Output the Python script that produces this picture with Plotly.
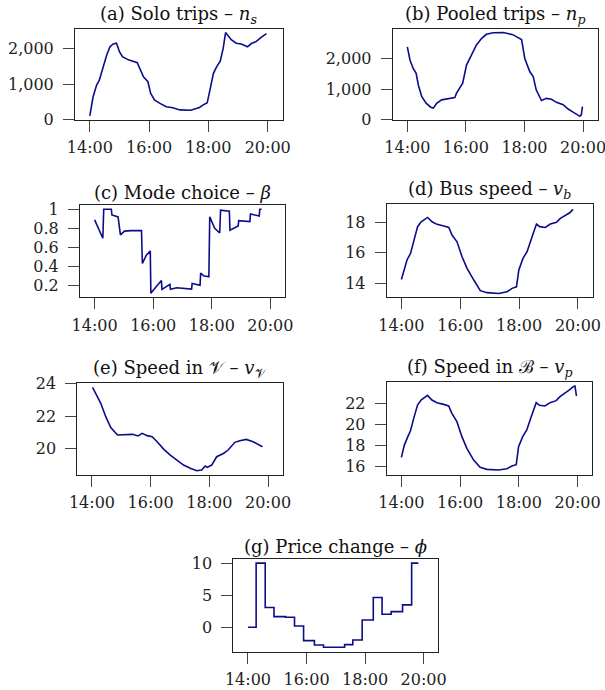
import plotly.graph_objects as go

# ---------------- data ----------------
tick_hours = [14, 16, 18, 20]
tick_labels = ["14:00", "16:00", "18:00", "20:00"]

# (a) Solo trips n_s
a_t = [14.0, 14.11, 14.23, 14.32, 14.57, 14.68, 14.79, 14.9, 15.0, 15.1, 15.3, 15.47, 15.6, 15.81, 15.96,
       16.05, 16.18, 16.35, 16.58, 16.8, 17.04, 17.4, 17.6, 17.7, 17.8, 17.96, 18.05, 18.17, 18.28, 18.4,
       18.5, 18.58, 18.77, 18.94, 19.11, 19.32, 19.45, 19.62, 19.8, 19.96]
a_v = [100, 640, 970, 1110, 1820, 2050, 2130, 2150, 1910, 1770, 1680, 1630, 1600, 1200, 1065,
       740, 550, 460, 360, 330, 270, 260, 320, 340, 400, 470, 820, 1300, 1490, 1640,
       2010, 2450, 2250, 2150, 2130, 2050, 2140, 2200, 2330, 2420]

# (b) Pooled trips n_p
b_t = [14.0, 14.09, 14.2, 14.3, 14.375, 14.49, 14.64, 14.8, 14.89, 15.0, 15.17, 15.4, 15.62, 15.68, 15.89,
       16.02, 16.19, 16.36, 16.53, 16.7, 16.93, 17.27, 17.6, 17.78, 17.9, 18.01, 18.18, 18.3, 18.4, 18.58,
       18.75, 18.92, 19.09, 19.32, 19.49, 19.66, 19.89, 19.94, 19.98]
b_v = [2390, 1960, 1680, 1520, 1140, 760, 540, 410, 380, 540, 650, 700, 730, 870, 1200,
       1790, 2120, 2450, 2660, 2800, 2850, 2860, 2790, 2700, 2630, 2010, 1580, 1410, 980, 630,
       700, 670, 570, 490, 350, 250, 110, 160, 430]

# (c) Mode choice beta
c_t = [14.0, 14.28, 14.31, 14.57, 14.59, 14.8, 14.88, 15.02, 15.25, 15.6, 15.63, 15.77, 15.9, 15.92, 16.1,
       16.28, 16.3, 16.57, 16.59, 16.8, 17.31, 17.33, 17.6, 17.62, 17.72, 17.9, 17.93, 18.1, 18.27, 18.3,
       18.6, 18.62, 18.9, 18.92, 19.3, 19.32, 19.62, 19.64, 19.7]
c_v = [0.888, 0.695, 1.0, 1.0, 0.94, 0.92, 0.73, 0.77, 0.775, 0.775, 0.43, 0.52, 0.56, 0.116, 0.186,
       0.25, 0.158, 0.21, 0.158, 0.175, 0.16, 0.22, 0.2, 0.33, 0.3, 0.29, 0.92, 0.8, 0.75, 0.99,
       0.98, 0.78, 0.825, 0.88, 0.87, 0.95, 0.93, 1.0, 1.0]

# (d) Bus speed v_b
d_t = [14.0, 14.08, 14.19, 14.31, 14.42, 14.55, 14.67, 14.78, 14.89, 15.04, 15.21, 15.44, 15.61, 15.72, 15.89,
       16.06, 16.23, 16.46, 16.68, 16.91, 17.31, 17.59, 17.76, 17.91, 17.99, 18.13, 18.27, 18.42, 18.59, 18.7,
       18.89, 19.06, 19.27, 19.4, 19.57, 19.72, 19.83]
d_v = [14.28, 14.89, 15.54, 15.97, 16.83, 17.7, 18.02, 18.17, 18.3, 18.02, 17.85, 17.74, 17.65, 17.16, 16.72,
       15.75, 15.0, 14.24, 13.55, 13.42, 13.37, 13.48, 13.7, 13.8, 14.89, 15.64, 16.08, 16.94, 17.87, 17.7,
       17.65, 17.87, 17.98, 18.24, 18.45, 18.6, 18.82]

# (e) Speed in V
e_t = [14.02, 14.19, 14.3, 14.47, 14.64, 14.87, 15.09, 15.38, 15.57, 15.71, 15.88, 16.05, 16.22, 16.45, 16.67,
       16.9, 17.12, 17.35, 17.57, 17.74, 17.86, 17.93, 18.08, 18.25, 18.48, 18.64, 18.87, 19.04, 19.26, 19.49,
       19.66, 19.81]
e_v = [23.76, 23.18, 22.78, 21.96, 21.3, 20.84, 20.86, 20.88, 20.78, 20.94, 20.8, 20.73, 20.43, 19.96, 19.61,
       19.31, 19.0, 18.8, 18.65, 18.69, 18.94, 18.86, 19.0, 19.51, 19.71, 19.92, 20.39, 20.49, 20.57, 20.43,
       20.29, 20.12]

# (f) Speed in B
f_t = [14.0, 14.1, 14.22, 14.31, 14.42, 14.55, 14.67, 14.78, 14.89, 15.04, 15.21, 15.44, 15.61, 15.72, 15.89,
       16.06, 16.23, 16.46, 16.68, 16.91, 17.31, 17.59, 17.76, 17.91, 17.99, 18.13, 18.27, 18.42, 18.59, 18.7,
       18.89, 19.06, 19.27, 19.4, 19.57, 19.72, 19.85, 19.91, 19.96]
f_v = [16.88, 18.04, 18.83, 19.39, 20.55, 21.81, 22.28, 22.53, 22.72, 22.28, 22.03, 21.87, 21.72, 21.03, 20.24,
       18.83, 17.73, 16.63, 15.94, 15.75, 15.69, 15.81, 16.06, 16.19, 17.88, 18.83, 19.46, 20.71, 22.03, 21.78,
       21.72, 22.03, 22.22, 22.6, 22.91, 23.23, 23.54, 23.6, 22.66]

# (g) Price change phi (step)
g_t = [14.0, 14.28, 14.59, 14.89, 15.28, 15.59, 15.9, 16.27, 16.58, 17.3, 17.58, 17.9, 18.28, 18.58, 18.89,
       19.28, 19.59, 19.82]
g_v = [0.0, 10.0, 3.1, 1.67, 1.56, 0.2, -2.08, -2.76, -3.1, -2.7, -1.98, 1.15, 4.64, 2.03, 2.45,
       3.5, 10.0, 10.0]

titles = [
    "(a) Solo trips \u2013 <i>n</i><sub><i>s</i></sub>",
    "(b) Pooled trips \u2013 <i>n</i><sub><i>p</i></sub>",
    "(c) Mode choice \u2013 <i>\u03b2</i>",
    "(d) Bus speed \u2013 <i>v</i><sub><i>b</i></sub>",
    "(e) Speed in \U0001D4B1 \u2013 <i>v</i><sub>\U0001D4B1</sub>",
    "(f) Speed in \u212C \u2013 <i>v</i><sub><i>p</i></sub>",
    "(g) Price change \u2013 <i>\u03d5</i>",
]

# ---------------- layout ----------------
W, H = 605, 690
FONT = "DejaVu Serif"
LINE = "#0c0c8a"

# box pixel positions (x0, x1, y0, y1)
boxes = [
    (75, 282.5, 29, 120),
    (392.7, 597.7, 29, 120),
    (80, 285, 205, 297.3),
    (386.7, 592.7, 204.3, 297.3),
    (77.3, 282.7, 382.7, 474.7),
    (386.7, 592.3, 382.3, 474.7),
    (233.3, 438.3, 559.3, 651.7),
]
yranges = [
    [-14, 2550],
    [-10, 2975],
    [0.074, 1.045],
    [13.12, 19.15],
    [18.41, 24.04],
    [15.25, 23.95],
    [-3.8, 10.6],
]
ytickvals = [
    [0, 1000, 2000],
    [0, 1000, 2000],
    [0.2, 0.4, 0.6, 0.8, 1.0],
    [14, 16, 18],
    [20, 22, 24],
    [16, 18, 20, 22],
    [0, 5, 10],
]
yticktext = [
    ["0", "1,000", "2,000"],
    ["0", "1,000", "2,000"],
    ["0.2", "0.4", "0.6", "0.8", "1"],
    ["14", "16", "18"],
    ["20", "22", "24"],
    ["16", "18", "20", "22"],
    ["0", "5", "10"],
]
series = [(a_t, a_v, "linear"), (b_t, b_v, "linear"), (c_t, c_v, "linear"), (d_t, d_v, "linear"),
          (e_t, e_v, "linear"), (f_t, f_v, "linear"), (g_t, g_v, "hv")]

fig = go.Figure()
axis_common = dict(
    showline=True, mirror=True, linecolor="#222", linewidth=1,
    ticks="outside", ticklen=11, tickwidth=1, tickcolor="#444",
    showgrid=False, zeroline=False, automargin=False, ticklabeloverflow="allow",
    tickfont=dict(family=FONT, size=16, color="#222"),
)
annotations = []
for i, ((x0, x1, y0, y1), (t, v, shape)) in enumerate(zip(boxes, series)):
    n = "" if i == 0 else str(i + 1)
    fig.add_trace(go.Scatter(x=t, y=v, mode="lines", line=dict(color=LINE, width=1.6, shape=shape),
                             xaxis="x" + n, yaxis="y" + n, showlegend=False, hoverinfo="skip"))
    fig.update_layout(**{
        "xaxis" + n: dict(axis_common, domain=[x0 / W, x1 / W], range=[13.5, 20.5],
                          tickvals=tick_hours, ticktext=tick_labels, anchor="y" + n,
                          ticklabelstandoff=2),
        "yaxis" + n: dict(axis_common, domain=[1 - y1 / H, 1 - y0 / H], range=yranges[i],
                          tickvals=ytickvals[i], ticktext=yticktext[i], anchor="x" + n,
                          ticklabelstandoff=6),
    })
    annotations.append(dict(
        text=titles[i], x=(x0 + x1) / 2 / W, y=1 - y0 / H, xref="paper", yref="paper",
        xanchor="center", yanchor="bottom", yshift=0, showarrow=False,
        font=dict(family=FONT, size=18, color="#111"),
    ))

fig.update_layout(
    template="none",
    width=W, height=H, margin=dict(l=0, r=0, t=0, b=0, autoexpand=False),
    paper_bgcolor="white", plot_bgcolor="white",
    annotations=annotations,
)
fig.write_html("out.html", config={"displayModeBar": False, "staticPlot": True},
               post_script="document.body.style.margin='0px';document.body.style.overflow='hidden';")
